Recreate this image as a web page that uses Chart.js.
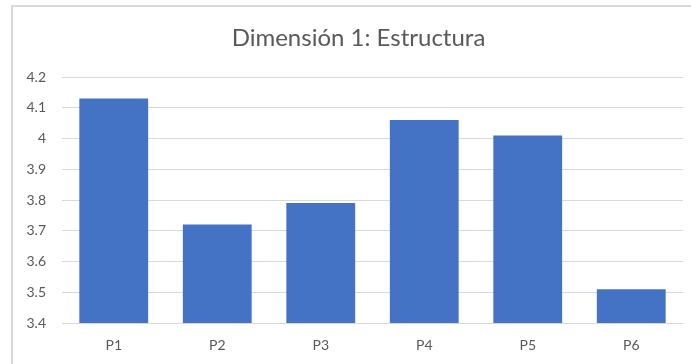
<!DOCTYPE html>
<html>
<head>
<meta charset="utf-8">
<script src="https://cdn.jsdelivr.net/npm/chart.js@4/dist/chart.umd.min.js"></script>
<style>
  html, body { margin: 0; padding: 0; background: #ffffff; overflow: hidden; }
  canvas { display: block; }
</style>
</head>
<body>
<canvas id="c" width="691" height="364"></canvas>
<script>
const chartTitle = 'Dimensión 1: Estructura';
const categories = ['P1', 'P2', 'P3', 'P4', 'P5', 'P6'];
const values = [4.13, 3.72, 3.79, 4.06, 4.01, 3.51];
const yTickLabels = ['3.4', '3.5', '3.6', '3.7', '3.8', '3.9', '4', '4.1', '4.2'];

const FONT = 'Lato, "Open Sans", sans-serif';
const TEXT = '#595959';
const GRID = '#d9d9d9';

const frame = {
  id: 'frame',
  beforeDraw(chart) {
    const ctx = chart.ctx;
    ctx.save();
    ctx.fillStyle = '#ffffff';
    ctx.fillRect(0, 0, chart.width, chart.height);
    ctx.strokeStyle = GRID;
    ctx.lineWidth = 2;
    ctx.strokeRect(12, 6, chart.width + 20, chart.height + 20);
    ctx.restore();
  },
  afterDraw(chart) {
    const ctx = chart.ctx;
    ctx.save();
    ctx.fillStyle = TEXT;
    ctx.font = '24px ' + FONT;
    ctx.textAlign = 'center';
    ctx.textBaseline = 'alphabetic';
    ctx.fillText(chartTitle, 358.5, 46);
    ctx.restore();
  }
};

new Chart(document.getElementById('c'), {
  type: 'bar',
  data: {
    labels: categories,
    datasets: [{
      data: values,
      backgroundColor: '#4472c4',
      borderWidth: 0,
      categoryPercentage: 1,
      barPercentage: 0.665
    }]
  },
  options: {
    responsive: false,
    animation: false,
    layout: { padding: { left: 12, right: 8, top: 77, bottom: 0 } },
    plugins: {
      legend: { display: false },
      title: { display: false },
      tooltip: { enabled: false }
    },
    scales: {
      x: {
        grid: { display: false, drawTicks: false },
        border: { display: false },
        ticks: { color: TEXT, font: { family: FONT, size: 14 }, padding: 14 },
        afterFit(scale) { scale.height = 41; }
      },
      y: {
        min: 3.4,
        max: 4.2,
        ticks: {
          stepSize: 0.1,
          color: TEXT,
          font: { family: FONT, size: 14 },
          padding: 16,
          callback: (v, i) => yTickLabels[i]
        },
        grid: { color: GRID, lineWidth: 1, drawTicks: false },
        border: { display: false },
        afterFit(scale) { scale.width = 50; }
      }
    }
  },
  plugins: [frame]
});
</script>
</body>
</html>
